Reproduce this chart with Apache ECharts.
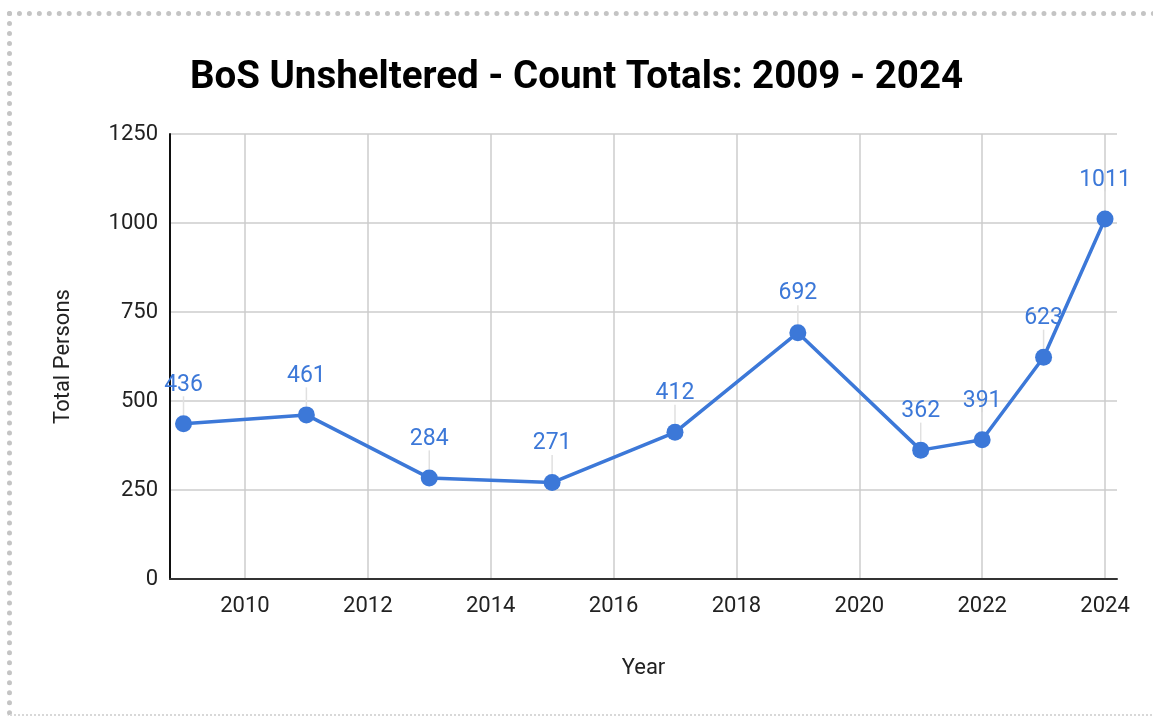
<!DOCTYPE html>
<html>
<head>
<meta charset="utf-8">
<script src="https://cdn.jsdelivr.net/npm/echarts@6/dist/echarts.min.js"></script>
<style>
  html, body { margin: 0; padding: 0; background: #fff; }
  #frame {
    position: absolute; left: 7px; top: 11px; width: 1160px; height: 705px;
    border-top: 5px dotted #c4c4c4; border-left: 5px dotted #c4c4c4;
    border-bottom: 2px dotted #d8d8d8; box-sizing: border-box;
  }
  #chart { position: absolute; left: 0; top: 0; width: 1153px; height: 717px; }
</style>
</head>
<body>
<div id="frame"></div>
<div id="chart"></div>
<script>
// Unsheltered point-in-time count totals by year
const years = [2009, 2011, 2013, 2015, 2017, 2019, 2021, 2022, 2023, 2024];
const totals = [436, 461, 284, 271, 412, 692, 362, 391, 623, 1011];
const yearTicks = [2010, 2012, 2014, 2016, 2018, 2020, 2022, 2024];

const blue = '#3c78d8';
const font = 'Roboto, "Noto Sans", sans-serif';

const chart = echarts.init(document.getElementById('chart'), null, { renderer: 'canvas' });
chart.setOption({
  backgroundColor: 'transparent',
  animation: false,
  title: {
    text: 'BoS Unsheltered - Count Totals: 2009 - 2024',
    left: 'center',
    top: 54,
    textStyle: { fontFamily: font, fontWeight: 'bold', fontSize: 38.5, color: '#000' }
  },
  grid: { left: 170, right: 36, top: 134, bottom: 138 },
  xAxis: {
    type: 'value',
    min: 2008.78,
    max: 2024.195,
    name: 'Year',
    nameLocation: 'middle',
    nameGap: 78,
    nameTextStyle: { fontFamily: font, fontSize: 22, color: '#222' },
    axisLine: { show: true, lineStyle: { color: '#333', width: 2 } },
    axisTick: { show: false, customValues: yearTicks },
    axisLabel: {
      customValues: yearTicks,
      fontFamily: font, fontSize: 22, color: '#222', margin: 16,
      formatter: v => String(v)
    },
    splitLine: { show: true, lineStyle: { color: '#cccccc', width: 1.5 } }
  },
  yAxis: {
    type: 'value',
    min: 0,
    max: 1250,
    interval: 250,
    name: 'Total Persons',
    nameLocation: 'middle',
    nameGap: 96,
    nameRotate: 90,
    nameTextStyle: { fontFamily: font, fontSize: 22, color: '#222' },
    axisLine: { show: true, lineStyle: { color: '#111', width: 2 } },
    axisTick: { show: false },
    axisLabel: {
      fontFamily: font, fontSize: 22, color: '#222', margin: 12,
      formatter: v => String(v)
    },
    splitLine: { show: true, lineStyle: { color: '#cccccc', width: 1.5 } }
  },
  series: [{
    type: 'line',
    data: years.map((y, i) => [y, totals[i]]),
    symbol: 'circle',
    symbolSize: 17,
    lineStyle: { color: blue, width: 3.5 },
    itemStyle: { color: blue },
    label: {
      show: true,
      position: 'top',
      distance: 6,
      fontFamily: font, fontSize: 23, color: blue,
      formatter: p => String(p.value[1])
    },
    labelLayout: { dy: -13 },
    labelLine: { show: true, lineStyle: { color: '#e0e0e0', width: 1.5 } },
    z: 3
  }]
});
</script>
</body>
</html>
